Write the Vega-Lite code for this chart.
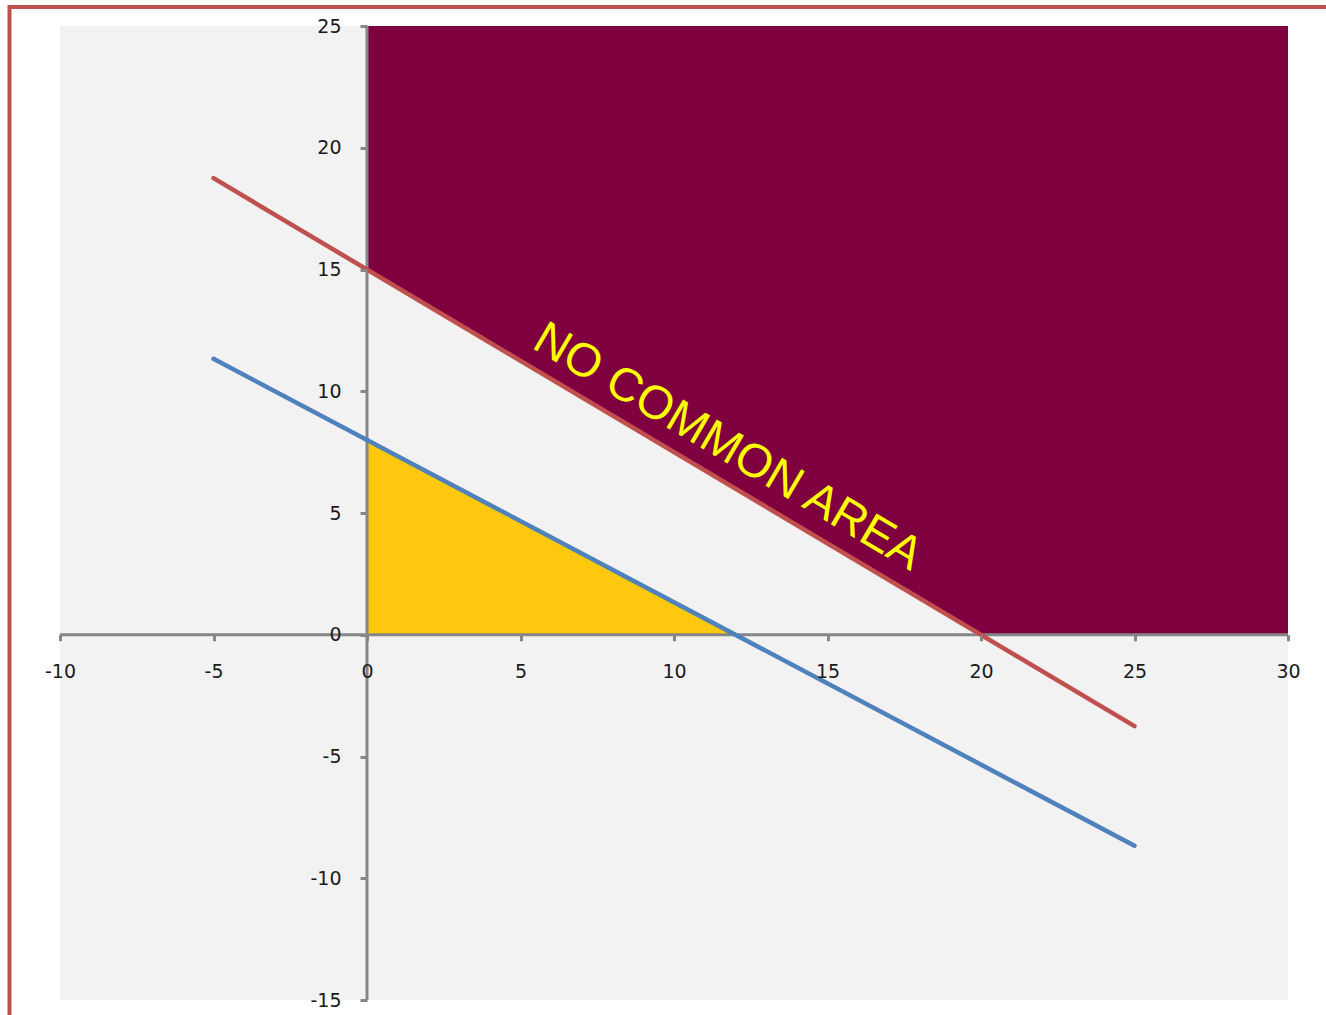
{
  "$schema": "https://vega.github.io/schema/vega-lite/v6.json",
  "width": 1228,
  "height": 974,
  "autosize": {"type": "none"},
  "padding": {"left": 60, "top": 26, "right": 38, "bottom": 15},
  "background": "white",
  "config": {"view": {"fill": "#f2f2f2", "stroke": null}},
  "encoding": {
    "x": {
      "field": "x", "type": "quantitative", "title": null,
      "scale": {"domain": [-10, 30], "nice": false, "zero": false},
      "axis": {
        "values": [-10, -5, 0, 5, 10, 15, 20, 25, 30],
        "labelExpr": "replace(datum.label, '−', '-')",
        "offset": -365.25, "domain": false, "grid": false, "zindex": 1,
        "tickColor": "#868686", "tickWidth": 3, "tickSize": 6,
        "labelFont": "DejaVu Sans", "labelFontSize": 19, "labelColor": "#1a1a1a",
        "labelPadding": 22, "labelFlush": false, "labelOverlap": false
      }
    },
    "y": {
      "field": "y", "type": "quantitative", "title": null,
      "scale": {"domain": [-15, 25], "nice": false, "zero": false},
      "axis": {
        "values": [-15, -10, -5, 0, 5, 10, 15, 20, 25],
        "labelExpr": "replace(datum.label, '−', '-')",
        "offset": -307, "domain": false, "grid": false, "zindex": 1,
        "tickColor": "#868686", "tickWidth": 3, "tickSize": 7,
        "labelFont": "DejaVu Sans", "labelFontSize": 19, "labelColor": "#1a1a1a",
        "labelPadding": 19, "labelFlush": false, "labelOverlap": false
      }
    }
  },
  "layer": [
    {
      "data": {"values": [{"x": -11.645, "x2": 33, "y": 25.78, "y2": -17}]},
      "mark": {"type": "rect", "filled": false, "stroke": "#C0504D", "strokeWidth": 4, "clip": false},
      "encoding": {"x2": {"field": "x2"}, "y2": {"field": "y2"}}
    },
    {
      "data": {"values": [
        {"x": 0, "y": 15, "y2": 25},
        {"x": 20, "y": 0, "y2": 25},
        {"x": 30, "y": 0, "y2": 25}
      ]},
      "mark": {"type": "area", "color": "#7F003F", "orient": "vertical"},
      "encoding": {"y2": {"field": "y2"}}
    },
    {
      "data": {"values": [
        {"x": 0, "y": 0, "y2": 8},
        {"x": 12, "y": 0, "y2": 0}
      ]},
      "mark": {"type": "area", "color": "#FDC80E", "orient": "vertical"},
      "encoding": {"y2": {"field": "y2"}}
    },
    {
      "data": {"values": [{"x": -10, "x2": 30, "y": 0}]},
      "mark": {"type": "rule", "color": "#868686", "strokeWidth": 3},
      "encoding": {"x2": {"field": "x2"}}
    },
    {
      "data": {"values": [{"x": 0, "y": -15, "y2": 25}]},
      "mark": {"type": "rule", "color": "#868686", "strokeWidth": 3},
      "encoding": {"y2": {"field": "y2"}}
    },
    {
      "data": {"values": [{"x": -5, "y": 18.75}, {"x": 25, "y": -3.75}]},
      "mark": {"type": "line", "color": "#C0504D", "strokeWidth": 4.5, "strokeCap": "round"},
      "encoding": {}
    },
    {
      "data": {"values": [{"x": -5, "y": 11.333}, {"x": 25, "y": -8.667}]},
      "mark": {"type": "line", "color": "#4F81BD", "strokeWidth": 4.5, "strokeCap": "round"},
      "encoding": {}
    },
    {
      "data": {"values": [{"x": 11.75, "y": 7.7, "label": "NO COMMON AREA"}]},
      "mark": {"type": "text", "angle": 30.5, "font": "Liberation Sans", "fontSize": 47, "color": "#FFFF00", "align": "center", "baseline": "middle"},
      "encoding": {"text": {"field": "label"}}
    }
  ]
}
